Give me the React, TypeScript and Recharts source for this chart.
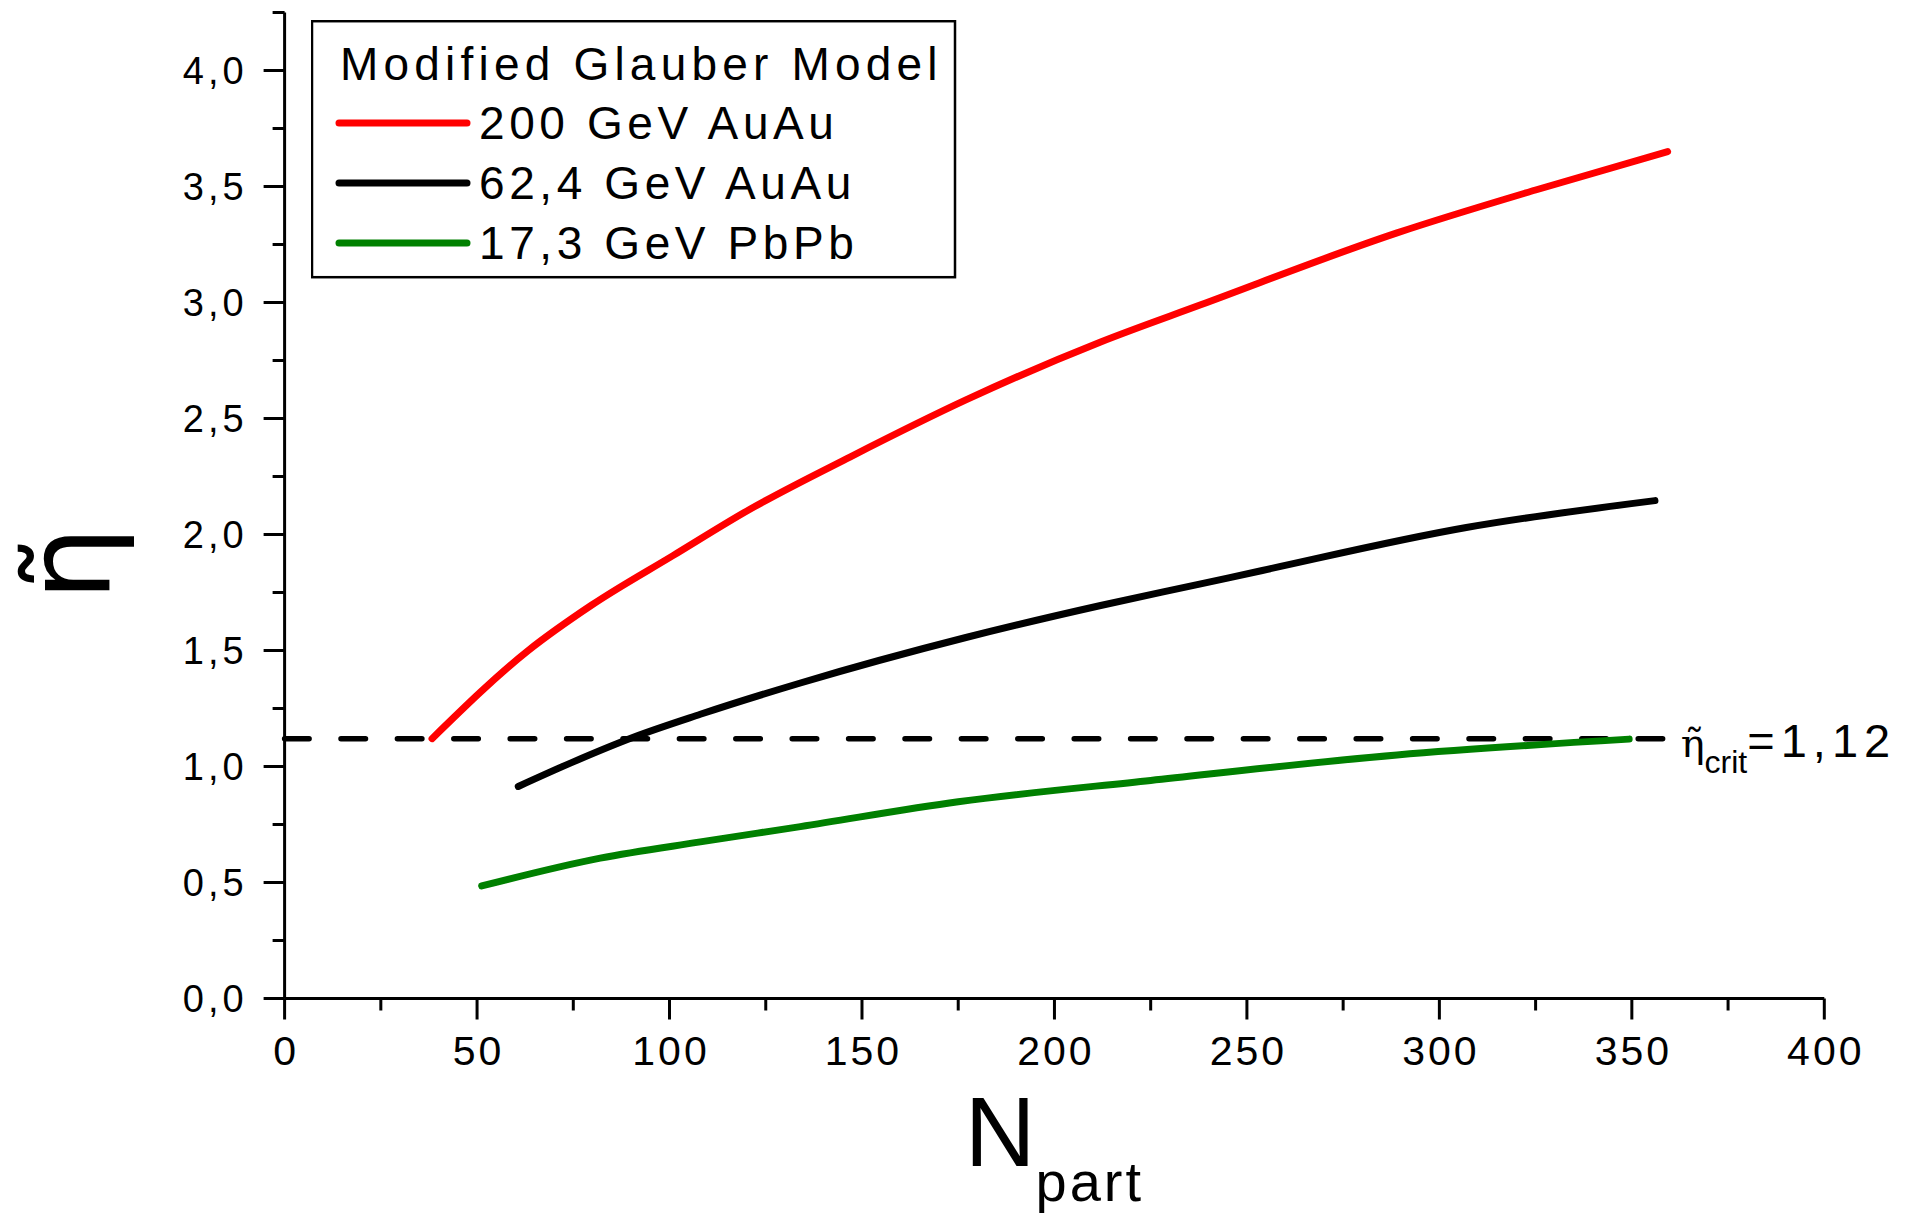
import { LineChart, Line, XAxis, YAxis, ReferenceLine, Legend } from "recharts"

// Participant number on the x axis, shear-viscosity ratio on the y axis
const xMajorTicks = [0, 50, 100, 150, 200, 250, 300, 350, 400]
const xMinorTicks = [25, 75, 125, 175, 225, 275, 325, 375]
const yMajorTicks = [0, 0.5, 1, 1.5, 2, 2.5, 3, 3.5, 4]
const yMinorTicks = [0.25, 0.75, 1.25, 1.75, 2.25, 2.75, 3.25, 3.75, 4.25]

const npart200 = [38.3, 63.3, 79.8, 101, 121, 147, 177, 212, 238, 289, 325, 359.3]
const eta200 = [1.12, 1.5, 1.696, 1.91, 2.11, 2.335, 2.58, 2.83, 2.99, 3.3, 3.485, 3.65]

const npart62 = [60.7, 75, 90.6, 108, 134, 177, 212, 238, 254, 307, 356]
const eta62 = [0.914, 1.02, 1.126, 1.225, 1.36, 1.556, 1.694, 1.787, 1.845, 2.03, 2.146]

const npart17 = [51.2, 82, 108, 134, 175, 225, 289, 349.3]
const eta17 = [0.485, 0.605, 0.675, 0.741, 0.848, 0.94, 1.05, 1.118]

const etaCrit = 1.12
const critRange = [0, 358]

const legendTitle = "Modified Glauber Model"

const zip = (xs: number[], ys: number[]) => xs.map((x, i) => ({ x, y: ys[i] }))

const series = [
  { name: "200 GeV AuAu", color: "#ff0000", data: zip(npart200, eta200) },
  { name: "62,4 GeV AuAu", color: "#000000", data: zip(npart62, eta62) },
  { name: "17,3 GeV PbPb", color: "#008000", data: zip(npart17, eta17) },
]

const FONT = '"Liberation Sans", Arial, sans-serif'
const GREEK = '"DejaVu Sans", sans-serif'
const GREEK_SERIF = '"DejaVu Serif", serif'

const isMajor = (v: number, step: number) => Math.abs(v / step - Math.round(v / step)) < 1e-6

function YTick({ x, y, payload }: any) {
  const v = payload.value as number
  const major = isMajor(v, 0.5)
  return (
    <g>
      <line x1={x - (major ? 21 : 12)} x2={x} y1={y} y2={y} stroke="#000" strokeWidth={3} />
      {major && (
        <text x={x - 37} y={y + 13.5} textAnchor="end" fontFamily={FONT} fontSize={38} fill="#000" style={{ letterSpacing: 4 }}>
          {v.toFixed(1).replace(".", ",")}
        </text>
      )}
    </g>
  )
}

function XTick({ x, y, payload }: any) {
  const v = payload.value as number
  const major = isMajor(v, 50)
  return (
    <g>
      <line x1={x} x2={x} y1={y} y2={y + (major ? 21 : 12)} stroke="#000" strokeWidth={3} />
      {major && (
        <text x={x + 1.5} y={y + 66.5} textAnchor="middle" fontFamily={FONT} fontSize={41} fill="#000" style={{ letterSpacing: 3 }}>
          {v}
        </text>
      )}
    </g>
  )
}

function XLabel({ viewBox }: any) {
  const cx = viewBox.x + viewBox.width / 2
  return (
    <text x={cx} y={viewBox.y + 167} textAnchor="middle" fontFamily={FONT} fill="#000">
      <tspan fontSize={98}>N</tspan>
      <tspan fontSize={56} dy={35} style={{ letterSpacing: 3 }}>part</tspan>
    </text>
  )
}

function YLabel({ viewBox }: any) {
  const x = viewBox.x + viewBox.width - 176
  const y = viewBox.y + viewBox.height / 2 + 58
  return (
    <text x={x} y={y} transform={`rotate(-90 ${x} ${y})`} textAnchor="middle" fontFamily={GREEK} fontSize={118} fill="#000">
      η̃
    </text>
  )
}

function CritLabel({ viewBox }: any) {
  const x = viewBox.x + viewBox.width + 18
  const y = viewBox.y + 18.5
  return (
    <text x={x} y={y} fontFamily={FONT} fill="#000">
      <tspan fontFamily={GREEK_SERIF} fontSize={40}>η̃</tspan>
      <tspan fontSize={32} dy={16}>crit</tspan>
      <tspan fontSize={47} dy={-16} style={{ letterSpacing: 6 }}>={String(etaCrit).replace(".", ",")}</tspan>
    </text>
  )
}

function LegendBox() {
  return (
    <svg width={646} height={260} style={{ display: "block" }}>
      <rect x={1} y={1.2} width={643} height={256} fill="#fff" stroke="#000" strokeWidth={2.5} />
      <text x={29} y={60} fontFamily={FONT} fontSize={46} fill="#000" style={{ letterSpacing: 5.2 }}>
        {legendTitle}
      </text>
      {series.map((s, i) => {
        const ly = 103 + 60 * i
        return (
          <g key={s.name}>
            <line x1={28} x2={156} y1={ly} y2={ly} stroke={s.color} strokeWidth={7} strokeLinecap="round" />
            <text x={168} y={ly + 16} fontFamily={FONT} fontSize={46} fill="#000" style={{ letterSpacing: 4.6 }}>
              {s.name}
            </text>
          </g>
        )
      })}
    </svg>
  )
}

export default function App() {
  return (
    <div style={{ position: "absolute", left: 0, top: 0, background: "#fff" }}>
      <LineChart
        width={1907}
        height={1215}
        margin={{ top: 12.5, right: 82.7, bottom: 215.5, left: 283.6 }}
      >
        <XAxis
          type="number"
          dataKey="x"
          domain={[0, 400]}
          ticks={[...xMajorTicks, ...xMinorTicks].sort((a, b) => a - b)}
          interval={0}
          height={1}
          tickSize={0}
          tickMargin={0}
          tickLine={false}
          tick={<XTick />}
          axisLine={{ stroke: "#000", strokeWidth: 3 }}
          label={{ content: <XLabel /> }}
          allowDataOverflow
        />
        <YAxis
          type="number"
          domain={[0, 4.25]}
          ticks={[...yMajorTicks, ...yMinorTicks].sort((a, b) => a - b)}
          interval={0}
          width={1}
          tickSize={0}
          tickMargin={0}
          tickLine={false}
          tick={<YTick />}
          axisLine={{ stroke: "#000", strokeWidth: 3 }}
          label={{ content: <YLabel /> }}
          allowDataOverflow
        />
        <ReferenceLine
          segment={[
            { x: critRange[0], y: etaCrit },
            { x: critRange[1], y: etaCrit },
          ]}
          stroke="#000"
          strokeWidth={5.5}
          strokeDasharray="24.5 31.9"
          strokeLinecap="round"
          label={{ content: <CritLabel /> }}
        />
        {series.map((s) => (
          <Line
            key={s.name}
            data={s.data}
            dataKey="y"
            name={s.name}
            type="monotone"
            stroke={s.color}
            strokeWidth={7}
            strokeLinecap="round"
            strokeLinejoin="round"
            dot={false}
            activeDot={false}
            isAnimationActive={false}
          />
        ))}
        <Legend
          layout="vertical"
          align="center"
          verticalAlign="middle"
          content={<LegendBox />}
          wrapperStyle={{ position: "absolute", left: 311, top: 19.5, width: 646, height: 260 }}
        />
      </LineChart>
    </div>
  )
}
